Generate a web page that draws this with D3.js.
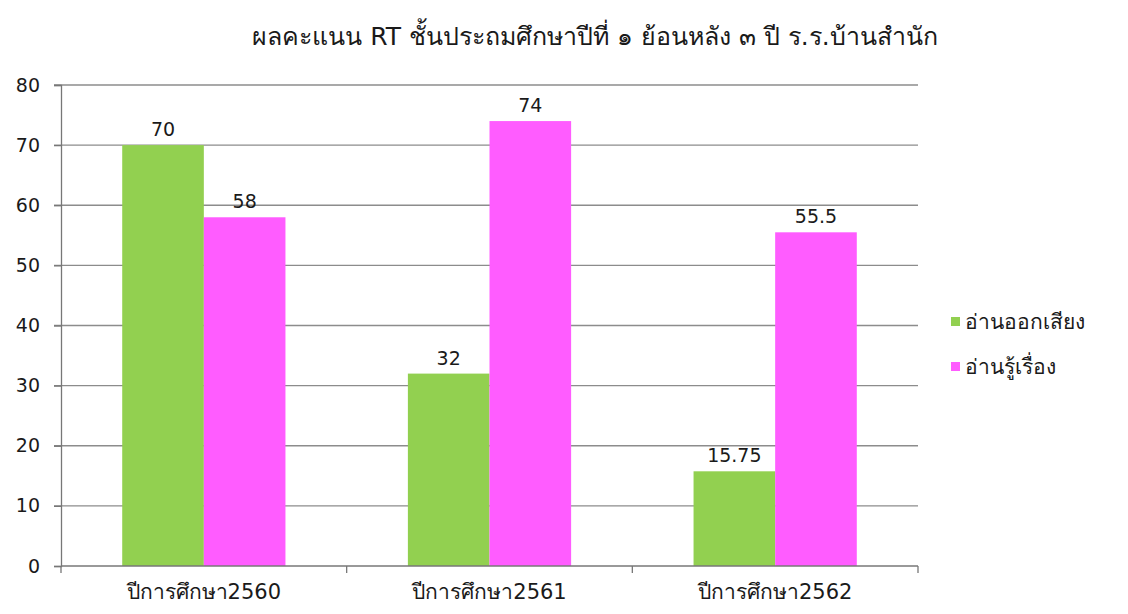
<!DOCTYPE html>
<html>
<head>
<meta charset="utf-8">
<script src="https://cdn.jsdelivr.net/npm/d3@7"></script>
<style>
  body { margin: 0; background: #fff; }
  svg { display: block; font-family: Tahoma, "DejaVu Sans", "Noto Sans", sans-serif; }
</style>
</head>
<body>
<svg id="chart" width="1128" height="614"></svg>
<script>
const categories = ["ปีการศึกษา2560", "ปีการศึกษา2561", "ปีการศึกษา2562"];
const seriesNames = ["อ่านออกเสียง", "อ่านรู้เรื่อง"];
const readAloud = [70, 32, 15.75];
const readUnderstand = [58, 74, 55.5];
const yTicks = [0, 10, 20, 30, 40, 50, 60, 70, 80];
const colors = ["#92d050", "#ff5cff"];
const title = "ผลคะแนน RT ชั้นประถมศึกษาปีที่ ๑ ย้อนหลัง ๓ ปี ร.ร.บ้านสำนัก";

const plotLeft = 61, plotRight = 918, plotTop = 85, plotBottom = 566;
const svg = d3.select("#chart");

const x = d3.scaleBand().domain(categories).range([plotLeft, plotRight]);
const y = d3.scaleLinear().domain([0, 80]).range([plotBottom, plotTop]);
// two bars with a 150% gap, like the office default
const barW = x.bandwidth() / 3.5;

const series = [readAloud, readUnderstand];

// gridlines
svg.append("g")
  .selectAll("line")
  .data(yTicks.filter(d => d > 0))
  .join("line")
  .attr("x1", plotLeft - 7).attr("x2", plotRight)
  .attr("y1", d => y(d)).attr("y2", d => y(d))
  .attr("stroke", "#8c8c8c").attr("stroke-width", 1.3);

// bars
series.forEach((vals, s) => {
  svg.append("g")
    .selectAll("rect")
    .data(vals)
    .join("rect")
    .attr("x", (d, i) => x(categories[i]) + x.bandwidth() / 2 - barW + s * barW)
    .attr("y", d => y(d))
    .attr("width", barW)
    .attr("height", d => y(0) - y(d))
    .attr("fill", colors[s]);

  svg.append("g")
    .selectAll("text")
    .data(vals)
    .join("text")
    .attr("x", (d, i) => x(categories[i]) + x.bandwidth() / 2 - barW / 2 + s * barW)
    .attr("y", d => y(d) - 9)
    .attr("text-anchor", "middle")
    .attr("font-size", 19)
    .attr("fill", "#1a1a1a")
    .text(d => d);
});

// y axis
const yAxis = svg.append("g")
  .attr("transform", `translate(${plotLeft},0)`)
  .call(d3.axisLeft(y).tickValues(yTicks).tickSize(7).tickPadding(14));
yAxis.select(".domain").attr("stroke", "#777").attr("stroke-width", 1.3);
yAxis.selectAll(".tick line").attr("stroke", "#777").attr("stroke-width", 1.3);
yAxis.selectAll("text").attr("font-size", 19).attr("fill", "#1a1a1a")
  .attr("font-family", "Tahoma, 'DejaVu Sans', sans-serif");

// x axis line with boundary ticks
const xAxis = svg.append("g").attr("transform", `translate(0,${plotBottom})`);
xAxis.append("line")
  .attr("x1", plotLeft).attr("x2", plotRight)
  .attr("stroke", "#777").attr("stroke-width", 1.3);
const bounds = categories.map(c => x(c)).concat([plotRight]);
xAxis.selectAll("line.tk")
  .data(bounds)
  .join("line")
  .attr("class", "tk")
  .attr("x1", d => d).attr("x2", d => d)
  .attr("y1", 0).attr("y2", 7)
  .attr("stroke", "#777").attr("stroke-width", 1.3);
xAxis.selectAll("text")
  .data(categories)
  .join("text")
  .attr("x", d => x(d) + x.bandwidth() / 2)
  .attr("y", 33)
  .attr("text-anchor", "middle")
  .attr("font-size", 21)
  .attr("fill", "#1a1a1a")
  .text(d => d);

// title
svg.append("text")
  .attr("x", 595).attr("y", 45)
  .attr("text-anchor", "middle")
  .attr("font-size", 25)
  .attr("fill", "#1a1a1a")
  .text(title);

// legend
const legend = svg.append("g").attr("transform", "translate(951,322)");
seriesNames.forEach((name, i) => {
  const g = legend.append("g").attr("transform", `translate(0,${i * 45})`);
  g.append("rect").attr("x", 0).attr("y", -5).attr("width", 9).attr("height", 9).attr("fill", colors[i]);
  g.append("text").attr("x", 14).attr("y", 7).attr("font-size", 21).attr("fill", "#1a1a1a").text(name);
});
</script>
</body>
</html>
